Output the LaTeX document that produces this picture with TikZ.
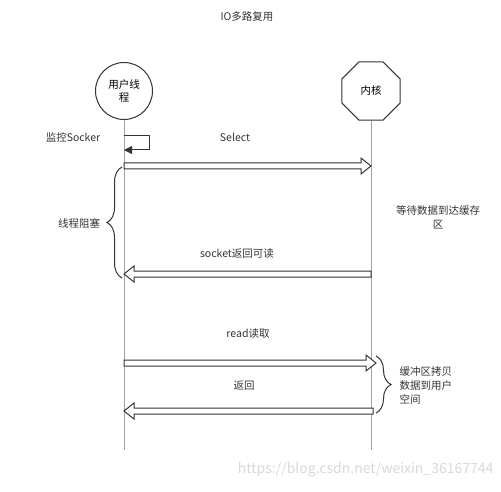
\documentclass[tikz,border=0pt]{standalone}
\usepackage{fontspec}
\setmainfont{Noto Sans CJK SC}
\usetikzlibrary{shapes.geometric,arrows.meta,decorations.pathreplacing,calc}

\definecolor{linegray}{HTML}{333333}
\definecolor{lifegray}{HTML}{A0A0A0}
\definecolor{markgray}{HTML}{D8D8D8}

\tikzset{
	actor/.style={draw=linegray, line width=1pt, inner sep=0pt, align=center, font=\fontsize{10.5}{13}\selectfont},
	lifeline/.style={draw=lifegray, line width=0.8pt},
	lbl/.style={text=linegray, align=center, font=\fontsize{10.5}{14}\selectfont},
	curly/.style={draw=linegray, line width=1pt, decorate, decoration={brace, amplitude=15pt}},
	blockarrow/.style={draw=linegray, fill=white, line width=1pt, to path={
		let \p1=(\tikztostart), \p2=(\tikztotarget), \p3=($(\tikztotarget)!10pt!(\tikztostart)$) in
		(\x1,\y2+3pt) -- (\x3,\y2+3pt) -- (\x3,\y2+8pt) -- (\x2,\y2) -- (\x3,\y2-8pt) -- (\x3,\y2-3pt) -- (\x1,\y2-3pt) -- cycle}}
}

\begin{document}
\begin{tikzpicture}[x=1pt, y=-1pt]
	\useasboundingbox (0,0) rectangle (501,492);

	\node[lbl] (title) at (247,17) {IO多路复用};

	% participants
	\node[actor, circle, minimum size=57pt] (user) at (124,91) {用户线\\程};
	\node[actor, regular polygon, regular polygon sides=8, minimum size=63pt] (kernel) at (371,91) {内核};

	\coordinate (ubot) at (124,450);
	\coordinate (kbot) at (371,450);
	\draw[lifeline] (user) -- (ubot);
	\draw[lifeline] (kernel) -- (kbot);

	% points on the lifelines
	\coordinate (u-mon1) at (124,136);
	\coordinate (u-mon2) at (124,150);
	\coordinate (u-sel) at (124,166);
	\coordinate (k-sel) at (371,166);
	\coordinate (u-ret1) at (124,274);
	\coordinate (k-ret1) at (371,274);
	\coordinate (u-read) at (124,363);
	\coordinate (k-read) at (376,363);
	\coordinate (u-ret2) at (124,411);
	\coordinate (k-ret2) at (373,411);

	\draw[draw=linegray, line width=1pt, -{Triangle[length=8pt,width=8pt]}] (u-mon1) -- ++(25,0) |- (u-mon2);
	\node[lbl] (monitor) at (73,137) {监控Socker};

	\path[blockarrow] (u-sel) to (k-sel);
	\node[lbl] (select) at (235,137) {Select};

	\path[blockarrow] (k-ret1) to (u-ret1);
	\node[lbl] (readable) at (237,254) {socket返回可读};

	\path[blockarrow] (u-read) to (k-read);
	\node[lbl] (read) at (248,334) {read读取};

	\path[blockarrow] (k-ret2) to (u-ret2);
	\node[lbl] (back) at (244,386) {返回};

	% braces
	\coordinate (lb-top) at (122,167);
	\coordinate (lb-bot) at (122,278);
	\draw[curly] (lb-bot) -- (lb-top);
	\node[lbl] (blocked) at (79,223) {线程阻塞};

	\node[lbl] (waiting) at (438,217) {等待数据到达缓存\\区};

	\coordinate (rb-top) at (376,356);
	\coordinate (rb-bot) at (376,413);
	\draw[curly] (rb-top) -- (rb-bot);
	\node[lbl, align=left, anchor=west] (copy) at (396,386) {缓冲区拷贝\\数据到用户\\空间};

	\node[text=markgray, anchor=east, font=\fontsize{14}{16}\selectfont] (mark) at (497,470) {https://blog.csdn.net/weixin\_36167744};
\end{tikzpicture}
\end{document}
